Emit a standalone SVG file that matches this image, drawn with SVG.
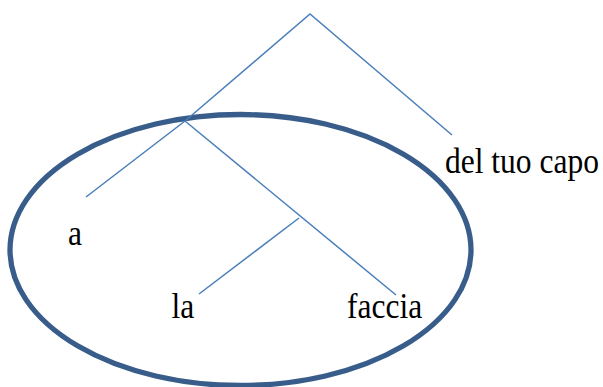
<svg xmlns="http://www.w3.org/2000/svg" width="603" height="387" viewBox="0 0 603 387">
<style>
.edge{fill:none;stroke:#4A7EBB;stroke-width:1.5;stroke-linecap:butt}
.lbl{font-family:"Liberation Serif","Times New Roman",serif;font-size:35px;fill:#000}
.ring{fill:none;stroke:#385D8A;stroke-width:5.3}
</style>
<rect width="603" height="387" fill="#fff"/>
<g id="ellipse"><ellipse class="ring" cx="240.5" cy="250" rx="230.5" ry="135.5"/></g>
<g id="connectors">
<polyline class="edge" points="452,135 310,14 185,121 86,197"/>
<line class="edge" x1="185" y1="121" x2="396" y2="295"/>
<line class="edge" x1="199" y1="294" x2="299" y2="218"/>
</g>
<g id="node-del-tuo-capo"><text class="lbl" transform="translate(445,173) scale(0.9,1)">del tuo capo</text></g>
<g id="node-a"><text class="lbl" transform="translate(68,245) scale(0.9,1)">a</text></g>
<g id="node-la"><text class="lbl" transform="translate(171.5,318) scale(0.9,1)">la</text></g>
<g id="node-faccia"><text class="lbl" transform="translate(347,318) scale(0.9,1)">faccia</text></g>
</svg>
